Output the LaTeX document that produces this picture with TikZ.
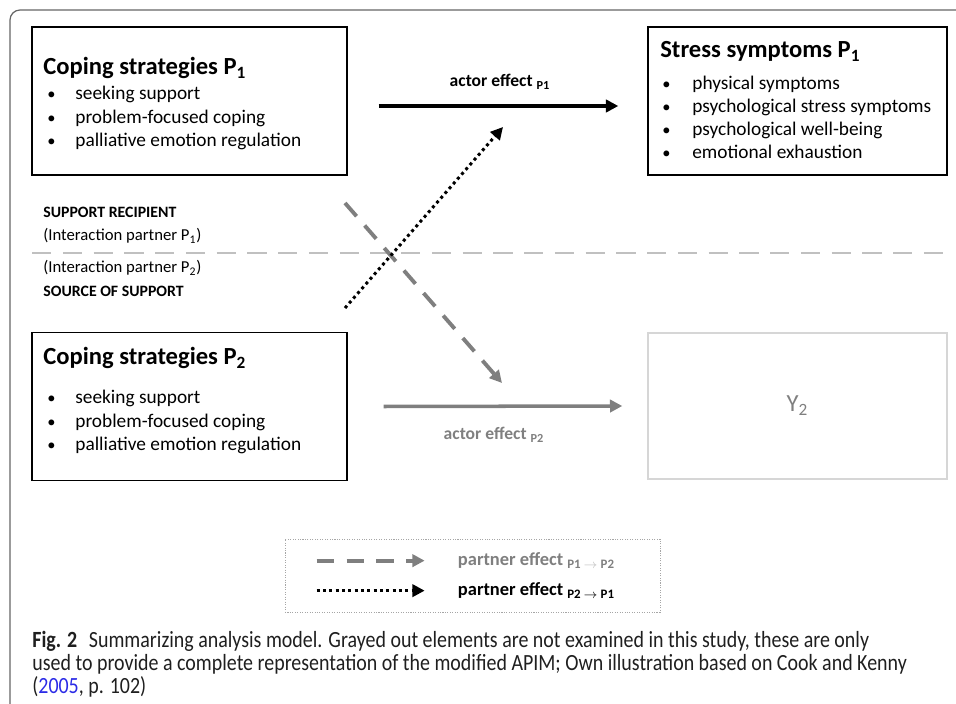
\documentclass[tikz,border=0pt]{standalone}
\usepackage{fontspec}
\setmainfont{Carlito}
\newfontfamily\capfont[FakeStretch=0.86]{Carlito}
\usetikzlibrary{arrows.meta,positioning}
\definecolor{greyline}{HTML}{7F7F7F}
\definecolor{greybox}{HTML}{D6D6D6}
\definecolor{sepgrey}{HTML}{C0C0C0}
\definecolor{framegrey}{HTML}{666666}
\definecolor{linkblue}{HTML}{2B2BE6}

\begin{document}
\begin{tikzpicture}[x=0.2mm, y=-0.2mm,
	every node/.style={inner sep=0pt},
	box/.style={draw, line width=0.8pt, minimum height=29.6mm},
	boxtitle/.style={anchor=base west, font=\bfseries\fontsize{14}{16}\selectfont},
	item/.style={anchor=base west, font=\fontsize{11}{13}\selectfont},
	effect/.style={anchor=base, font=\bfseries\fontsize{10}{12}\selectfont},
	role/.style={anchor=base west, font=\fontsize{9.5}{11}\selectfont},
	tip/.style={-{Triangle[length=7pt,width=7pt]}},
	actor/.style={tip, line width=2pt},
	partnerdash/.style={tip, greyline, line width=2.2pt, dash pattern=on 10pt off 7pt},
	partnerdot/.style={tip, line width=1.7pt, dash pattern=on 1.7pt off 1.9pt}]
	\useasboundingbox (0,0) rectangle (956,704);
	% frame
	\draw[framegrey, line width=0.7pt, rounded corners=2mm] (956,10) -- (10,10) -- (10,704);
	% boxes
	\node[box, minimum width=63mm] (cp1) at (189.5,101) {};
	\node[box, minimum width=59.8mm] (ss1) at (797.5,101) {};
	\node[box, minimum width=63mm] (cp2) at (189.5,406.5) {};
	\node[box, draw=greybox, minimum width=59.8mm, minimum height=29.2mm] (y2) at (797.5,406) {};
	% box texts
	\node[boxtitle] (cp1-title) at (43,75) {Coping strategies P\textsubscript{1}};
	\foreach \txt [count=\i] in {seeking support, problem-focused coping, palliative emotion regulation}
		\node[item] (cp1-\i) at (47,76.5+23.5*\i) {\makebox[5.6mm][l]{\scalebox{0.85}{\textbullet}}\txt};
	\node[boxtitle] (ss1-title) at (660,58) {Stress symptoms P\textsubscript{1}};
	\foreach \txt [count=\i] in {physical symptoms, psychological stress symptoms, psychological well-being, emotional exhaustion}
		\node[item] (ss1-\i) at (662,67.3+22.7*\i) {\makebox[6mm][l]{\scalebox{0.85}{\textbullet}}\txt};
	\node[boxtitle] (cp2-title) at (43,365) {Coping strategies P\textsubscript{2}};
	\foreach \txt [count=\i] in {seeking support, problem-focused coping, palliative emotion regulation}
		\node[item] (cp2-\i) at (47,380.5+23.5*\i) {\makebox[5.6mm][l]{\scalebox{0.85}{\textbullet}}\txt};
	\node[greyline, font=\fontsize{14}{16}\selectfont] (y2-label) at (y2) {Y\textsubscript{2}};
	% partner roles
	\draw[sepgrey, line width=1.1pt, dash pattern=on 11pt off 6.5pt] (32,253) -- (947,253);
	\node[role, font=\bfseries\fontsize{9}{11}\selectfont] (recipient) at (43,218) {SUPPORT RECIPIENT};
	\node[role] (partner1) at (43,241) {(Interaction partner P\textsubscript{1})};
	\node[role] (partner2) at (43,273) {(Interaction partner P\textsubscript{2})};
	\node[role, font=\bfseries\fontsize{9}{11}\selectfont] (source) at (43,297) {SOURCE OF SUPPORT};
	% effects
	\coordinate (a1s) at ([shift={(31,5)}]cp1.east);
	\coordinate (a1e) at ([shift={(-29,5)}]ss1.west);
	\coordinate (a2s) at ([shift={(36,0)}]cp2.east);
	\coordinate (a2e) at ([shift={(-25,0)}]y2.west);
	\coordinate (p12s) at (345,203);
	\coordinate (p12e) at (502,383);
	\coordinate (p21s) at (345,308);
	\coordinate (p21e) at (503,127);
	\draw[partnerdash] (p12s) -- (p12e);
	\draw[partnerdot] (p21s) -- (p21e);
	\draw[actor] (a1s) -- (a1e);
	\draw[actor, greyline] (a2s) -- (a2e);
	\node[effect] (actor1) at (500,87) {actor effect \textsubscript{P1}};
	\node[effect, greyline] (actor2) at (494,440) {actor effect \textsubscript{P2}};
	% legend
	\node[draw=gray!70, line width=0.4pt, dash pattern=on 0.6pt off 0.8pt, minimum width=75mm, minimum height=14.6mm] (legend) at (472.5,575.5) {};
	\coordinate (ld1) at ([shift={(32,22)}]legend.north west);
	\coordinate (ld2) at ([shift={(140,22)}]legend.north west);
	\coordinate (lt1) at ([shift={(32,52)}]legend.north west);
	\coordinate (lt2) at ([shift={(140,52)}]legend.north west);
	\draw[partnerdash, dash pattern=on 10pt off 7pt] (ld1) -- (ld2);
	\draw[partnerdot] (lt1) -- (lt2);
	\node[effect, anchor=base west, greyline, font=\bfseries\fontsize{10.5}{12}\selectfont] (leg1) at ([shift={(173,27)}]legend.north west) {partner effect \textsubscript{P1 {\color{gray!50}$\rightarrow$} P2}};
	\node[effect, anchor=base west, font=\bfseries\fontsize{10.5}{12}\selectfont] (leg2) at ([shift={(173,57)}]legend.north west) {partner effect \textsubscript{P2 $\rightarrow$ P1}};
	% caption
	\node[anchor=north west, align=left, font=\capfont\fontsize{13.2}{13}\selectfont, text=black!88] (caption) at (32,631) {{\bfseries Fig. 2}\enspace Summarizing analysis model. Grayed out elements are not examined in this study, these are only\\used to provide a complete representation of the modified APIM; Own illustration based on Cook and Kenny\\({\color{linkblue}2005}, p. 102)};
\end{tikzpicture}
\end{document}
